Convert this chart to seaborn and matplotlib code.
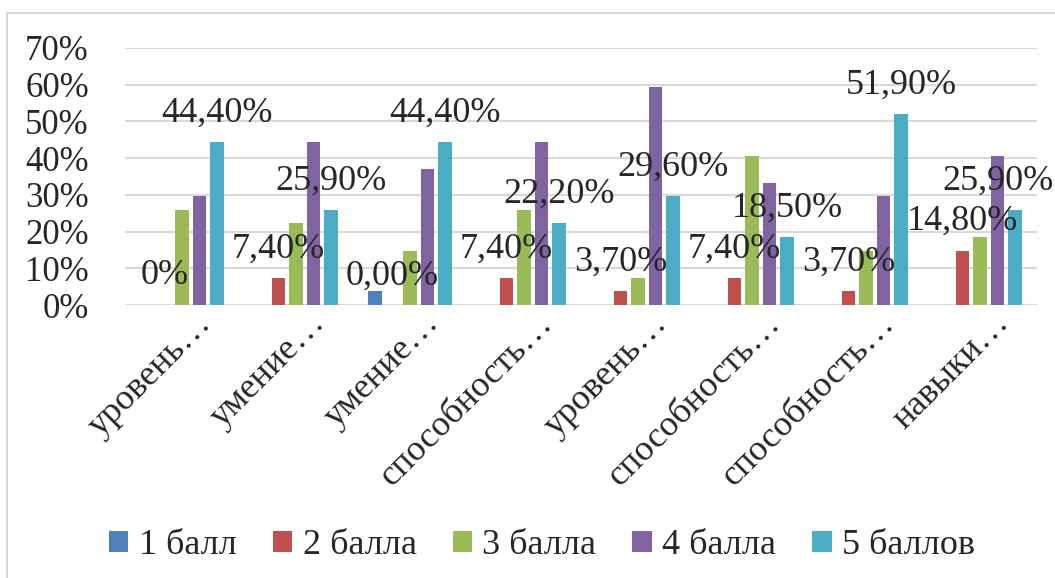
import pandas as pd
import numpy as np
import matplotlib
matplotlib.use('Agg')
import matplotlib.pyplot as plt
import matplotlib.transforms as mtransforms
from matplotlib.patches import Rectangle
import seaborn as sns

# ========================= DATEN =========================
categories = ['уровень…', 'умение…', 'умение…', 'способность…',
              'уровень…', 'способность…', 'способность…', 'навыки…']
series_names = ['1 балл', '2 балла', '3 балла', '4 балла', '5 баллов']

ball_1 = [0.0, 0.0, 3.7, 0.0, 0.0, 0.0, 0.0, 0.0]
ball_2 = [0.0, 7.4, 0.0, 7.4, 3.7, 7.4, 3.7, 14.8]
ball_3 = [25.9, 22.2, 14.8, 25.9, 7.4, 40.7, 14.8, 18.5]
ball_4 = [29.6, 44.4, 37.0, 44.4, 59.3, 33.3, 29.6, 40.7]
ball_5 = [44.4, 25.9, 44.4, 22.2, 29.6, 18.5, 51.9, 25.9]

labels_2 = ['0%', '7,40%', '0,00%', '7,40%', '3,70%', '7,40%', '3,70%', '14,80%']
labels_5 = ['44,40%', '25,90%', '44,40%', '22,20%', '29,60%', '18,50%', '51,90%', '25,90%']

y_ticks = [0, 10, 20, 30, 40, 50, 60, 70]

colors = ['#4F81BD', '#C0504D', '#9BBB59', '#8064A2', '#4BACC6']
GRID = '#D9D9D9'

# Long-Format fuer seaborn (Index statt Name, da Namen doppelt vorkommen)
rows = []
for name, vals in zip(series_names, [ball_1, ball_2, ball_3, ball_4, ball_5]):
    for i, v in enumerate(vals):
        rows.append({'idx': i, 'score': name, 'value': v})
df = pd.DataFrame(rows)

sns.set_style('white')
plt.rcParams['font.family'] = 'serif'
plt.rcParams['font.serif'] = ['Liberation Serif', 'DejaVu Serif']

fig = plt.figure(figsize=(10.55, 5.78), dpi=100)
ax = fig.add_axes([125 / 1055, 1 - 305 / 578, (1037 - 125) / 1055, (305 - 48) / 578])

sns.barplot(data=df, x='idx', y='value', hue='score', hue_order=series_names,
            palette=colors, width=0.77, saturation=1, ax=ax, legend=True)

# Balken etwas schmaler -> weisse Luecken zwischen den Balken
for p in ax.patches:
    w = p.get_width()
    p.set_x(p.get_x() + w * 0.115)
    p.set_width(w * 0.77)
    p.set_edgecolor('none')

# Datenbeschriftungen (nur 2 und 5 Punkte)
ax.bar_label(ax.containers[1], labels=labels_2, padding=9, fontsize=26)
ann5 = ax.bar_label(ax.containers[4], labels=labels_5, padding=9, fontsize=26)
# letzte Beschriftung nach links, damit sie ins Bild passt (wie in Excel)
ann5[-1].xyann = (-12, 9)

ax.set_ylim(0, 70)
ax.set_xlim(-0.5, len(categories) - 0.5)
ax.set_yticks(y_ticks)
ax.set_yticklabels([f'{t}%' for t in y_ticks], fontsize=25)
ax.yaxis.grid(True, color=GRID, linewidth=1.5)
ax.set_axisbelow(True)
for s in ax.spines.values():
    s.set_visible(False)
ax.tick_params(axis='y', length=0, pad=26)
ax.tick_params(axis='x', length=0, pad=14)
ax.set_xlabel('')
ax.set_ylabel('')

ax.set_xticks(range(len(categories)))
ax.set_xticklabels(categories, rotation=45, ha='right', va='baseline',
                   rotation_mode='anchor', fontsize=26)
offset = mtransforms.ScaledTranslation(0.30, 0, fig.dpi_scale_trans)
for lbl in ax.get_xticklabels():
    lbl.set_transform(lbl.get_transform() + offset)

# Legende unten
handles, lbls = ax.get_legend_handles_labels()
ax.legend_.remove()
fig.legend(handles, lbls, loc='center', bbox_to_anchor=(542 / 1055, 1 - 546 / 578),
           ncol=5, frameon=False, fontsize=26, handlelength=0.53, handleheight=0.53,
           handletextpad=0.3, columnspacing=1.0)

# Rahmen des Diagrammbereichs
fig.patches.append(Rectangle((7 / 1055, -0.1), 1.2, (578 - 13) / 578 + 0.1,
                             transform=fig.transFigure, fill=False,
                             edgecolor=GRID, linewidth=1.5))

fig.savefig('out.png', dpi=100, facecolor='white')
